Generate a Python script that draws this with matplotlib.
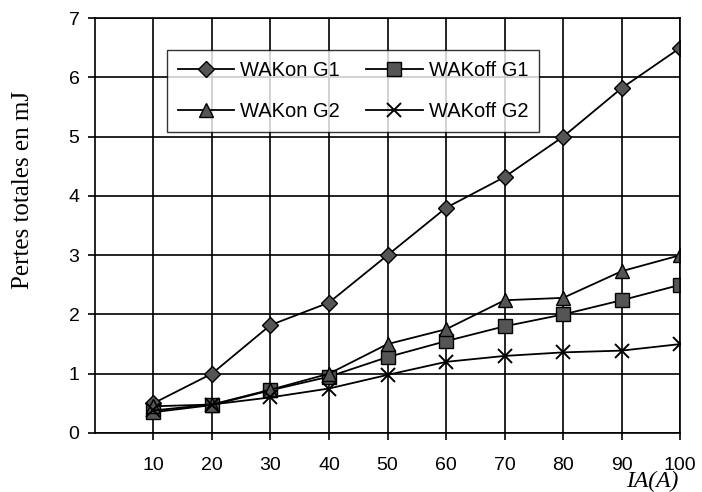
import matplotlib
matplotlib.use("Agg")
import matplotlib.pyplot as plt

currents = [10, 20, 30, 40, 50, 60, 70, 80, 90, 100]
wakon_g1 = [0.5, 1.0, 1.82, 2.2, 3.0, 3.8, 4.32, 5.0, 5.82, 6.5]
wakoff_g1 = [0.35, 0.47, 0.72, 0.95, 1.28, 1.55, 1.8, 2.0, 2.24, 2.5]
wakon_g2 = [0.45, 0.48, 0.73, 1.0, 1.5, 1.75, 2.24, 2.28, 2.73, 3.0]
wakoff_g2 = [0.38, 0.48, 0.6, 0.75, 0.98, 1.2, 1.3, 1.36, 1.39, 1.5]
xticks = [10, 20, 30, 40, 50, 60, 70, 80, 90, 100]
yticks = [0, 1, 2, 3, 4, 5, 6, 7]

plt.rcParams['font.family'] = ['Liberation Sans', 'DejaVu Sans']

fig = plt.figure(figsize=(7.02, 4.92), dpi=100)
ax = fig.add_axes([0.135, 0.12, 0.834, 0.843])

mk = dict(color='black', lw=1.3, markeredgecolor='black', markerfacecolor='#555555')
l1, = ax.plot(currents, wakon_g1, marker='D', markersize=8, label='WAKon G1', **mk)
l2, = ax.plot(currents, wakoff_g1, marker='s', markersize=9.5, label='WAKoff G1', **mk)
l3, = ax.plot(currents, wakon_g2, marker='^', markersize=10, label='WAKon G2', **mk)
l4, = ax.plot(currents, wakoff_g2, marker='x', markersize=10, markeredgewidth=1.4,
              label='WAKoff G2', color='black', lw=1.3)

ax.set_xlim(0, 100)
ax.set_ylim(0, 7)
ax.set_xticks(xticks)
ax.set_yticks(yticks)
ax.grid(True, color='black', lw=1.2)
for s in ax.spines.values():
    s.set_linewidth(1.2)
ax.tick_params(labelsize=14, direction='out', length=5, width=1.2)
ax.tick_params(axis='x', pad=12)
ax.tick_params(axis='y', pad=6)

ax.set_ylabel('Pertes totales en mJ', family='Liberation Serif', fontsize=18)
ax.yaxis.set_label_coords(-0.104, 0.585)
fig.text(0.929, 0.022, 'IA(A)', family='Liberation Serif', style='italic',
         fontsize=17, ha='center', va='center')

leg = ax.legend(handles=[l1, l3, l2, l4], ncol=2, loc='upper left',
                bbox_to_anchor=(0.123, 0.923),
                fontsize=14.5, frameon=True, fancybox=False, edgecolor='black',
                borderpad=0.55, columnspacing=1.3, handlelength=2.8,
                handletextpad=0.3, labelspacing=1.1, borderaxespad=0)
leg.get_frame().set_linewidth(1.0)

fig.savefig('out.png', dpi=100)
